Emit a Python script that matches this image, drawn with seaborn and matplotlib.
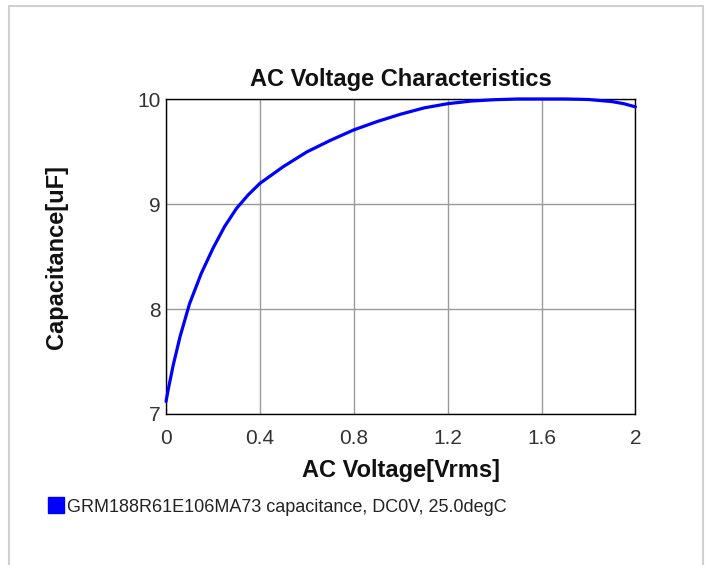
"""AC voltage characteristics of GRM188R61E106MA73 (capacitance vs AC voltage)."""

import matplotlib

matplotlib.use("Agg")

import matplotlib.pyplot as plt
import pandas as pd
import seaborn as sns
from matplotlib.lines import Line2D

# values
ac_voltage = [0.0, 0.01, 0.03, 0.06, 0.1, 0.15, 0.2, 0.25, 0.3, 0.35, 0.4, 0.5, 0.6, 0.7,
              0.8, 0.9, 1.0, 1.1, 1.2, 1.3, 1.4, 1.5, 1.6, 1.7, 1.8, 1.85, 1.9, 1.95, 2.0]
capacitance = [7.12, 7.24, 7.46, 7.74, 8.05, 8.34, 8.58, 8.79, 8.96, 9.09, 9.2, 9.36, 9.5,
               9.61, 9.71, 9.79, 9.86, 9.92, 9.96, 9.985, 9.998, 10.005, 10.005, 10.005,
               10.0, 9.99, 9.98, 9.96, 9.93]
x_ticks = [0, 0.4, 0.8, 1.2, 1.6, 2]
x_tick_labels = ["0", "0.4", "0.8", "1.2", "1.6", "2"]
y_ticks = [7, 8, 9, 10]
series_label = "GRM188R61E106MA73 capacitance, DC0V, 25.0degC"

sns.set_theme(style="white")
plt.rcParams["font.family"] = ["Liberation Sans", "DejaVu Sans"]

df = pd.DataFrame({"ac_voltage": ac_voltage, "capacitance": capacitance})

fig = plt.figure(figsize=(7.08, 5.65), dpi=100)
ax = fig.add_axes([0.2345, 0.2673, 0.663, 0.5566])

sns.lineplot(data=df, x="ac_voltage", y="capacitance", ax=ax, color="#0000ff",
             linewidth=2.3, clip_on=False, zorder=5)

ax.set_xlim(0, 2)
ax.set_ylim(7, 10)
ax.set_xticks(x_ticks)
ax.set_xticklabels(x_tick_labels)
ax.set_yticks(y_ticks)
ax.grid(True, color="#9a9a9a", linewidth=1.0)
ax.tick_params(axis="both", length=0, labelsize=15, colors="#333333")
ax.tick_params(axis="x", pad=11)
ax.tick_params(axis="y", pad=4)
for spine in ax.spines.values():
    spine.set_color("black")
    spine.set_linewidth(1.0)

ax.set_title("AC Voltage Characteristics", fontsize=17, fontweight="bold", pad=10,
             color="#111111")
ax.set_xlabel("AC Voltage[Vrms]", fontsize=17, fontweight="bold", labelpad=8,
              color="#111111")
ax.set_ylabel("Capacitance[uF]", fontsize=17, fontweight="bold", labelpad=50,
              color="#111111")

# legend below the plot, left aligned
handle = Line2D([], [], marker="s", linestyle="none", markersize=12,
                markerfacecolor="#0000ff", markeredgecolor="#0000ff")
fig.legend([handle], [series_label], loc="upper left", bbox_to_anchor=(0.053, 0.13),
           frameon=False, fontsize=13, handletextpad=0.05, borderaxespad=0,
           handlelength=1.2, labelcolor="#222222")

# light frame around the whole chart (open at the bottom)
fig.add_artist(Line2D([9 / 708, 9 / 708, 703 / 708, 703 / 708], [0, 1 - 6 / 565, 1 - 6 / 565, 0],
                      transform=fig.transFigure, color="#cfcfd4", linewidth=1.5))

fig.savefig("out.png", dpi=100)
plt.close(fig)
